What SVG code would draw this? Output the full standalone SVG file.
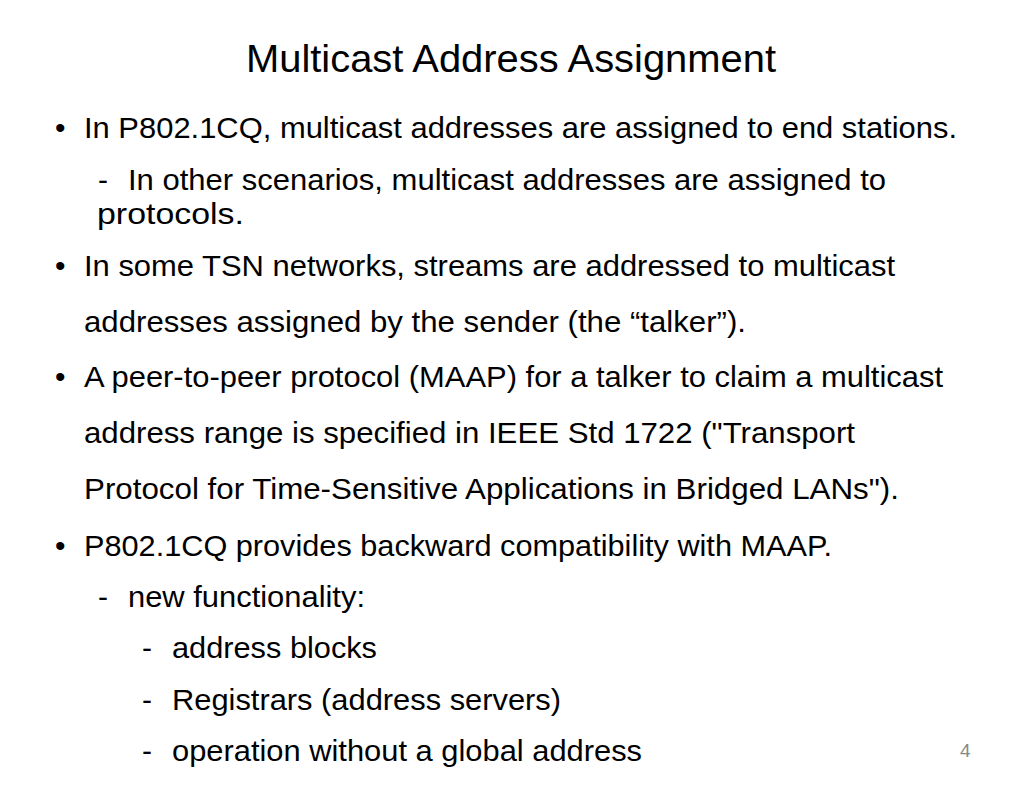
<svg xmlns="http://www.w3.org/2000/svg" width="1024" height="791" viewBox="0 0 1024 791">
<style>
text{font-family:"Liberation Sans",Arial,sans-serif;fill:#000}
.t{font-size:39px}
.b{font-size:30px}
.n{font-size:19px;fill:#888}
</style>
<rect width="1024" height="791" fill="#fff"/>
<text class="t" x="246" y="72" textLength="530" lengthAdjust="spacingAndGlyphs">Multicast Address Assignment</text>
<g>
<text class="b" x="55" y="138">•</text>
<text class="b" x="84" y="138" textLength="873" lengthAdjust="spacingAndGlyphs">In P802.1CQ, multicast addresses are assigned to end stations.</text>
<text class="b" x="98" y="190">-</text>
<text class="b" x="128" y="190" textLength="758" lengthAdjust="spacingAndGlyphs">In other scenarios, multicast addresses are assigned to</text>
<text class="b" x="97" y="224" textLength="147" lengthAdjust="spacingAndGlyphs">protocols.</text>
<text class="b" x="55" y="276">•</text>
<text class="b" x="84" y="276" textLength="811" lengthAdjust="spacingAndGlyphs">In some TSN networks, streams are addressed to multicast</text>
<text class="b" x="84" y="332" textLength="662" lengthAdjust="spacingAndGlyphs">addresses assigned by the sender (the “talker”).</text>
<text class="b" x="55" y="387">•</text>
<text class="b" x="84" y="387" textLength="859" lengthAdjust="spacingAndGlyphs">A peer-to-peer protocol (MAAP) for a talker to claim a multicast</text>
<text class="b" x="84" y="443" textLength="771" lengthAdjust="spacingAndGlyphs">address range is specified in IEEE Std 1722 ("Transport</text>
<text class="b" x="84" y="499" textLength="815" lengthAdjust="spacingAndGlyphs">Protocol for Time-Sensitive Applications  in Bridged LANs").</text>
<text class="b" x="55" y="556">•</text>
<text class="b" x="84" y="556" textLength="748" lengthAdjust="spacingAndGlyphs">P802.1CQ provides backward compatibility with MAAP.</text>
<text class="b" x="98" y="607">-</text>
<text class="b" x="128" y="607" textLength="237" lengthAdjust="spacingAndGlyphs">new functionality:</text>
<text class="b" x="142" y="658">-</text>
<text class="b" x="172" y="658" textLength="205" lengthAdjust="spacingAndGlyphs">address blocks</text>
<text class="b" x="142" y="710">-</text>
<text class="b" x="172" y="710" textLength="389" lengthAdjust="spacingAndGlyphs">Registrars (address servers)</text>
<text class="b" x="142" y="761">-</text>
<text class="b" x="172" y="761" textLength="470" lengthAdjust="spacingAndGlyphs">operation without a global address</text>
</g>
<text class="n" x="960" y="757">4</text>
</svg>
